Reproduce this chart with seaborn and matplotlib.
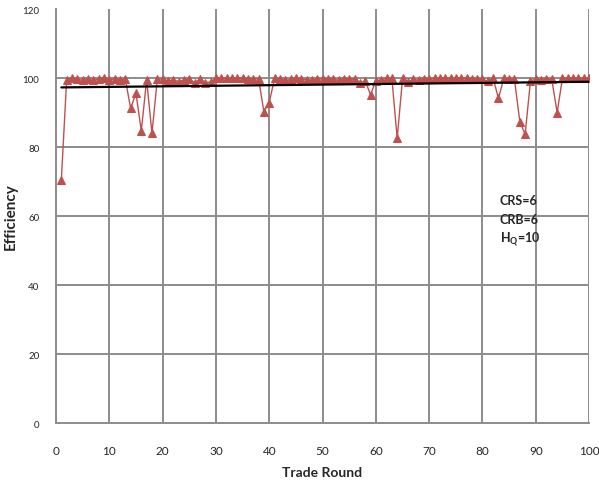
import matplotlib
matplotlib.use('Agg')
import matplotlib.pyplot as plt
import seaborn as sns
import numpy as np
import pandas as pd

rounds = list(range(1, 101))
efficiency = [
    70.5, 99.5, 100.0, 99.6, 99.4, 99.6, 99.3, 99.8, 100.0, 99.5,
    99.8, 99.4, 99.7, 91.2, 95.6, 84.7, 99.5, 84.0, 99.6, 99.8,
    99.2, 99.5, 99.0, 99.4, 99.8, 98.6, 99.6, 98.7, 98.8, 100.0,
    100.0, 100.0, 99.9, 100.0, 100.0, 99.8, 99.7, 99.8, 90.2, 92.9,
    100.0, 99.8, 99.3, 99.6, 100.0, 99.8, 99.5, 99.4, 99.7, 99.8,
    99.6, 99.8, 99.3, 99.8, 99.7, 99.6, 98.5, 99.2, 95.2, 99.2,
    99.5, 100.0, 100.0, 82.5, 99.9, 98.9, 99.6, 99.4, 99.8, 99.7,
    99.9, 100.0, 100.0, 99.9, 100.0, 100.0, 100.0, 99.8, 99.6, 99.7,
    99.1, 99.9, 94.1, 100.0, 99.8, 99.6, 87.4, 83.7, 99.2, 99.7,
    99.5, 99.8, 99.6, 90.0, 100.0, 100.0, 100.0, 100.0, 100.0, 100.0,
]
x_ticks = list(range(0, 101, 10))
y_ticks = list(range(0, 121, 20))
notes = ['CRS=6', 'CRB=6', r'H$_\mathbf{Q}$=10']

df = pd.DataFrame({'round': rounds, 'eff': efficiency})

# linear trend, like the excel trendline
k, b = np.polyfit(df['round'], df['eff'], 1)
trend = pd.DataFrame({'round': [1, 100]})
trend['eff'] = k * trend['round'] + b

sns.set_style('white')
plt.rcParams['font.family'] = ['Lato', 'DejaVu Sans']
plt.rcParams['mathtext.fontset'] = 'custom'
plt.rcParams['mathtext.rm'] = 'Lato'
plt.rcParams['mathtext.bf'] = 'Lato:bold'

fig = plt.figure(figsize=(5.99, 4.81), dpi=100)
ax = fig.add_axes([0.0935, 0.1185, 0.8900, 0.8605])

grid_c = '#8c8c8c'
for xv in x_ticks[1:]:
    ax.axvline(xv, color=grid_c, lw=1.4, zorder=0)
for yv in y_ticks[1:-1]:
    ax.axhline(yv, color=grid_c, lw=1.4, zorder=0)

sns.lineplot(data=df, x='round', y='eff', ax=ax, color='#C0504D', lw=1,
             marker='^', markersize=5.5, markeredgecolor='#C0504D', zorder=3)
sns.lineplot(data=trend, x='round', y='eff', ax=ax, color='black', lw=1.6, zorder=4)

ax.set_xlim(0, 100)
ax.set_ylim(0, 120)
ax.set_xticks(x_ticks)
ax.set_yticks(y_ticks)
ax.tick_params(axis='x', labelsize=8.5, length=4, width=1.2, color=grid_c,
               direction='inout', pad=14)
ax.tick_params(axis='y', labelsize=7, length=4, width=1.2, color=grid_c,
               direction='out', pad=8)
for side in ['top', 'right']:
    ax.spines[side].set_visible(False)
for side in ['left', 'bottom']:
    ax.spines[side].set_color(grid_c)
    ax.spines[side].set_linewidth(1.4)

ax.set_xlabel('Trade Round', fontsize=10, fontweight='bold')
ax.set_ylabel('Efficiency', fontsize=11, fontweight='bold')
ax.xaxis.set_label_coords(0.5, -0.105)
ax.yaxis.set_label_coords(-0.072, 0.5)

for i, t in enumerate(notes):
    ax.text(83.2, 64.6 - i * 5.5, t, fontsize=9, fontweight='bold', va='center', ha='left')

fig.savefig('out.png', dpi=100)
